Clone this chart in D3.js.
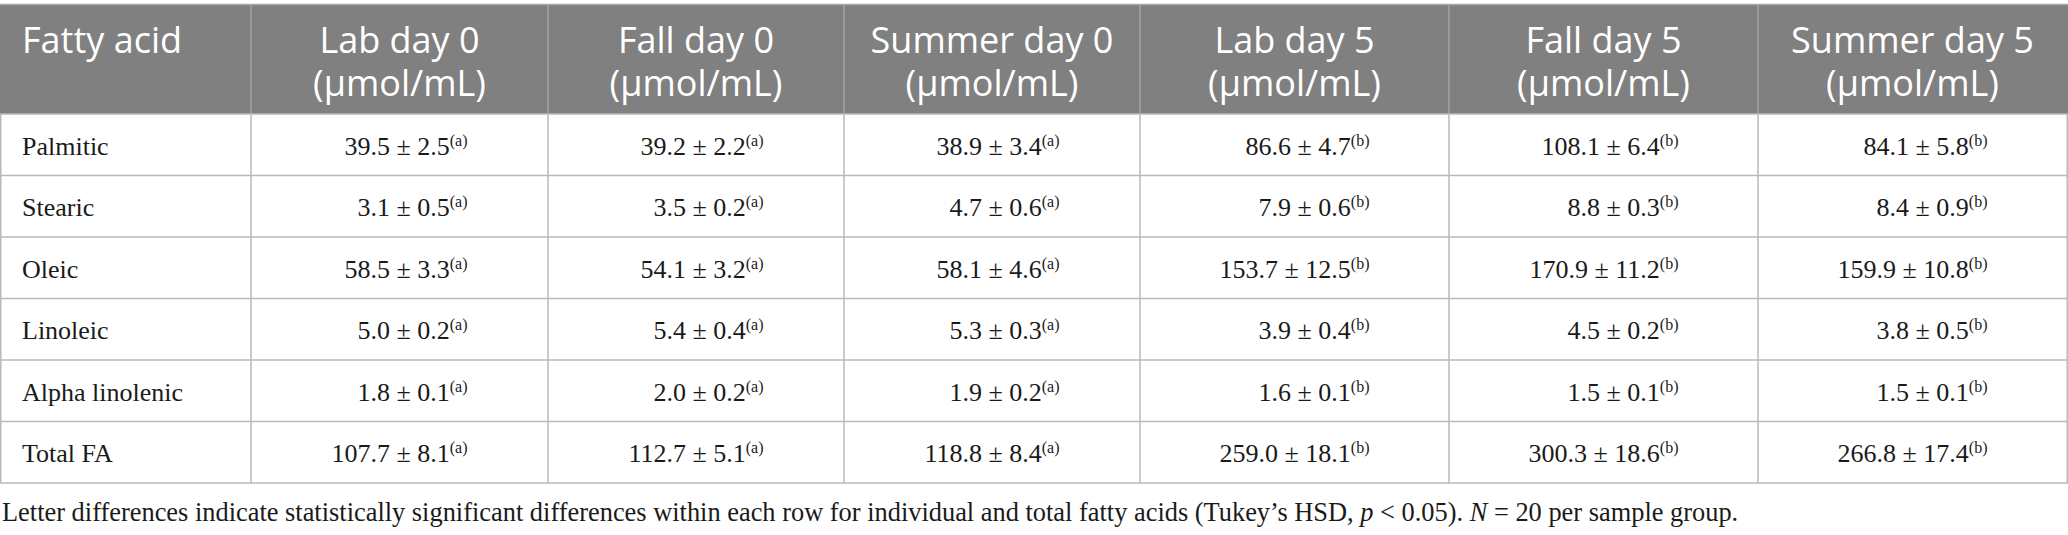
<!DOCTYPE html>
<html>
<head>
<meta charset="utf-8">
<script src="https://cdn.jsdelivr.net/npm/d3@7"></script>
<style>
  body { margin: 0; background: #fff; }
  svg { display: block; }
</style>
</head>
<body>
<div class="table"></div>
<script>
// table contents
var fattyAcids = ["Palmitic", "Stearic", "Oleic", "Linoleic", "Alpha linolenic", "Total FA"];
var groups = ["Lab day 0", "Fall day 0", "Summer day 0", "Lab day 5", "Fall day 5", "Summer day 5"];
var unit = "(\u03bcmol/mL)";

// mean per row (fatty acid), one value per group
var means = [
    [39.5, 39.2, 38.9, 86.6, 108.1, 84.1],
    [3.1, 3.5, 4.7, 7.9, 8.8, 8.4],
    [58.5, 54.1, 58.1, 153.7, 170.9, 159.9],
    [5.0, 5.4, 5.3, 3.9, 4.5, 3.8],
    [1.8, 2.0, 1.9, 1.6, 1.5, 1.5],
    [107.7, 112.7, 118.8, 259.0, 300.3, 266.8]
];
var sds = [
    [2.5, 2.2, 3.4, 4.7, 6.4, 5.8],
    [0.5, 0.2, 0.6, 0.6, 0.3, 0.9],
    [3.3, 3.2, 4.6, 12.5, 11.2, 10.8],
    [0.2, 0.4, 0.3, 0.4, 0.2, 0.5],
    [0.1, 0.2, 0.2, 0.1, 0.1, 0.1],
    [8.1, 5.1, 8.4, 18.1, 18.6, 17.4]
];
var letters = ["a", "a", "a", "b", "b", "b"];

var footnote = "Letter differences indicate statistically significant differences within each row for individual and total fatty acids (Tukey\u2019s HSD, ";

var width = 2068, height = 535;
var top_y = 4.5, header_h = 109.5, table_bottom = 483;
var colWidths = [251, 297, 296, 296, 309, 309, 309];   // layout only
var colEdges = [0].concat(Array.from(d3.cumsum(colWidths)));

var svg = d3.select(".table")
    .append("svg")
    .attr("width", width)
    .attr("height", height);

var columns = ["Fatty acid"].concat(groups);
var xLeft = d3.scaleOrdinal().domain(columns).range(colEdges.slice(0, -1));
var xWidth = d3.scaleOrdinal().domain(columns).range(colWidths);

var y = d3.scaleBand()
    .domain(fattyAcids)
    .range([top_y + header_h, table_bottom]);

var serif = "'Liberation Serif', 'Times New Roman', serif";
var sans = "'Open Sans', 'Noto Sans', sans-serif";

// header background
svg.append("rect")
    .attr("x", 0).attr("y", top_y)
    .attr("width", width).attr("height", header_h)
    .attr("fill", "#808080");

// header separators
svg.selectAll(".hsep")
    .data(columns.slice(1))
    .enter()
    .append("line")
    .attr("x1", function (d) { return xLeft(d); })
    .attr("x2", function (d) { return xLeft(d); })
    .attr("y1", top_y).attr("y2", top_y + header_h)
    .attr("stroke", "#a3a3a3").attr("stroke-width", 1.5);

// header labels
svg.append("text")
    .attr("x", 22).attr("y", 53)
    .attr("font-family", sans).attr("font-size", 36)
    .attr("fill", "#fff")
    .text("Fatty acid");

svg.selectAll(".head")
    .data(groups)
    .enter()
    .append("text")
    .attr("class", "head")
    .attr("text-anchor", "middle")
    .attr("font-family", sans).attr("font-size", 36)
    .attr("fill", "#fff")
    .attr("x", function (d) { return xLeft(d) + xWidth(d) / 2; })
    .attr("y", 53)
    .text(function (d) { return d; });

svg.selectAll(".unit")
    .data(groups)
    .enter()
    .append("text")
    .attr("class", "unit")
    .attr("text-anchor", "middle")
    .attr("font-family", sans).attr("font-size", 36)
    .attr("fill", "#fff")
    .attr("x", function (d) { return xLeft(d) + xWidth(d) / 2; })
    .attr("y", 96)
    .text(unit);

// grid lines
var grid = svg.append("g").attr("stroke", "#b8b8b8").attr("stroke-width", 1.5);
grid.append("line")
    .attr("x1", 0).attr("x2", width)
    .attr("y1", top_y).attr("y2", top_y)
    .attr("stroke", "#a8a8a8");
grid.selectAll(".hline")
    .data(fattyAcids)
    .enter()
    .append("line")
    .attr("x1", 0).attr("x2", width)
    .attr("y1", function (d) { return y(d); })
    .attr("y2", function (d) { return y(d); });
grid.append("line")
    .attr("x1", 0).attr("x2", width)
    .attr("y1", table_bottom).attr("y2", table_bottom);
grid.selectAll(".vline")
    .data(colEdges)
    .enter()
    .append("line")
    .attr("x1", function (d, i) { return i == 0 ? 0.75 : (i == colEdges.length - 1 ? width - 0.75 : d); })
    .attr("x2", function (d, i) { return i == 0 ? 0.75 : (i == colEdges.length - 1 ? width - 0.75 : d); })
    .attr("y1", top_y + header_h).attr("y2", table_bottom);

// row labels
svg.selectAll(".rowlab")
    .data(fattyAcids)
    .enter()
    .append("text")
    .attr("x", 22)
    .attr("y", function (d) { return y(d) + y.bandwidth() / 2 + 10; })
    .attr("font-family", serif).attr("font-size", 26)
    .attr("fill", "#1a1a1a")
    .text(function (d) { return d; });

// cells
var cells = [];
fattyAcids.forEach(function (fa, r) {
    groups.forEach(function (g, c) {
        cells.push({ row: fa, col: g, c: c, mean: means[r][c], sd: sds[r][c], letter: letters[c] });
    });
});

var cellText = svg.selectAll(".cell")
    .data(cells)
    .enter()
    .append("text")
    .attr("class", "cell")
    .attr("text-anchor", "end")
    .attr("y", function (d) { return y(d.row) + y.bandwidth() / 2 + 10; })
    .attr("font-family", serif).attr("font-size", 26)
    .attr("fill", "#1a1a1a");
cellText.append("tspan")
    .text(function (d) { return d3.format(".1f")(d.mean) + " \u00b1 " + d3.format(".1f")(d.sd); });
cellText.append("tspan")
    .attr("font-size", 16)
    .attr("dy", -9)
    .text(function (d) { return "(" + d.letter + ")"; });

// right-align values inside a block centred in each column
var maxW = {};
cellText.each(function (d) {
    var w = this.getComputedTextLength();
    maxW[d.col] = Math.max(maxW[d.col] || 0, w);
});
cellText.attr("x", function (d) { return xLeft(d.col) + xWidth(d.col) / 2 + maxW[d.col] / 2; });

// footnote
var note = svg.append("text")
    .attr("x", 2).attr("y", 521)
    .attr("font-family", serif).attr("font-size", 26.4)
    .attr("fill", "#1a1a1a");
note.append("tspan").text(footnote);
note.append("tspan").attr("font-style", "italic").text("p");
note.append("tspan").text(" < 0.05). ");
note.append("tspan").attr("font-style", "italic").text("N");
note.append("tspan").text(" = 20 per sample group.");
</script>
</body>
</html>
